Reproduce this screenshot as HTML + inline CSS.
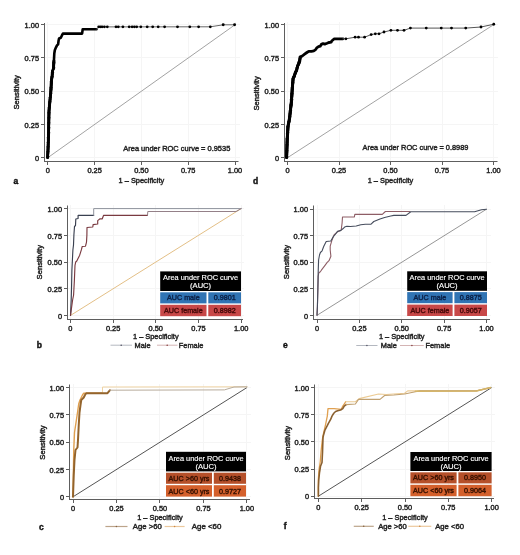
<!DOCTYPE html><html><head><meta charset="utf-8"><style>html,body{margin:0;padding:0;background:#fff;}svg{display:block;}text{font-family:"Liberation Sans",sans-serif;}svg{will-change:transform;filter:blur(0.3px);}</style></head><body>
<svg width="520" height="555" viewBox="0 0 520 555">
<rect width="520" height="555" fill="#fff"/>
<line x1="47.5" y1="22" x2="47.5" y2="161.5" stroke="#f5f5f5" stroke-width="1"/>
<line x1="44.5" y1="157.5" x2="240" y2="157.5" stroke="#f5f5f5" stroke-width="1"/>
<line x1="94.5" y1="22" x2="94.5" y2="161.5" stroke="#f5f5f5" stroke-width="1"/>
<line x1="44.5" y1="124.5" x2="240" y2="124.5" stroke="#f5f5f5" stroke-width="1"/>
<line x1="141.5" y1="22" x2="141.5" y2="161.5" stroke="#f5f5f5" stroke-width="1"/>
<line x1="44.5" y1="91.5" x2="240" y2="91.5" stroke="#f5f5f5" stroke-width="1"/>
<line x1="188.5" y1="22" x2="188.5" y2="161.5" stroke="#f5f5f5" stroke-width="1"/>
<line x1="44.5" y1="57.5" x2="240" y2="57.5" stroke="#f5f5f5" stroke-width="1"/>
<line x1="235.5" y1="22" x2="235.5" y2="161.5" stroke="#f5f5f5" stroke-width="1"/>
<line x1="44.5" y1="24.5" x2="240" y2="24.5" stroke="#f5f5f5" stroke-width="1"/>
<line x1="44.5" y1="23" x2="44.5" y2="162" stroke="#5e5e5e" stroke-width="1"/>
<line x1="44" y1="161.5" x2="238.5" y2="161.5" stroke="#5e5e5e" stroke-width="1"/>
<line x1="41" y1="157.5" x2="44.5" y2="157.5" stroke="#5e5e5e" stroke-width="1"/>
<line x1="47.5" y1="161.5" x2="47.5" y2="165" stroke="#5e5e5e" stroke-width="1"/>
<text x="39" y="160.9" font-size="7.4" text-anchor="end" fill="#222" stroke="#222" stroke-width="0.42" font-weight="normal">0</text>
<text x="47.8" y="173" font-size="7.4" text-anchor="middle" fill="#222" stroke="#222" stroke-width="0.42" font-weight="normal">0</text>
<line x1="41" y1="124.5" x2="44.5" y2="124.5" stroke="#5e5e5e" stroke-width="1"/>
<line x1="94.5" y1="161.5" x2="94.5" y2="165" stroke="#5e5e5e" stroke-width="1"/>
<text x="39" y="127.66" font-size="7.4" text-anchor="end" fill="#222" stroke="#222" stroke-width="0.42" font-weight="normal">0.25</text>
<text x="94.6" y="173" font-size="7.4" text-anchor="middle" fill="#222" stroke="#222" stroke-width="0.42" font-weight="normal">0.25</text>
<line x1="41" y1="91.5" x2="44.5" y2="91.5" stroke="#5e5e5e" stroke-width="1"/>
<line x1="141.5" y1="161.5" x2="141.5" y2="165" stroke="#5e5e5e" stroke-width="1"/>
<text x="39" y="94.42" font-size="7.4" text-anchor="end" fill="#222" stroke="#222" stroke-width="0.42" font-weight="normal">0.50</text>
<text x="141.4" y="173" font-size="7.4" text-anchor="middle" fill="#222" stroke="#222" stroke-width="0.42" font-weight="normal">0.50</text>
<line x1="41" y1="57.5" x2="44.5" y2="57.5" stroke="#5e5e5e" stroke-width="1"/>
<line x1="188.5" y1="161.5" x2="188.5" y2="165" stroke="#5e5e5e" stroke-width="1"/>
<text x="39" y="61.19" font-size="7.4" text-anchor="end" fill="#222" stroke="#222" stroke-width="0.42" font-weight="normal">0.75</text>
<text x="188.2" y="173" font-size="7.4" text-anchor="middle" fill="#222" stroke="#222" stroke-width="0.42" font-weight="normal">0.75</text>
<line x1="41" y1="24.5" x2="44.5" y2="24.5" stroke="#5e5e5e" stroke-width="1"/>
<line x1="235.5" y1="161.5" x2="235.5" y2="165" stroke="#5e5e5e" stroke-width="1"/>
<text x="39" y="27.95" font-size="7.4" text-anchor="end" fill="#222" stroke="#222" stroke-width="0.42" font-weight="normal">1.00</text>
<text x="235" y="173" font-size="7.4" text-anchor="middle" fill="#222" stroke="#222" stroke-width="0.42" font-weight="normal">1.00</text>
<text x="0" y="0" font-size="7.65" text-anchor="middle" fill="#222" stroke="#222" stroke-width="0.42" transform="translate(18.6,92.3) rotate(-90)">Sensitivity</text>
<text x="141.4" y="183.2" font-size="7.4" text-anchor="middle" fill="#222" stroke="#222" stroke-width="0.42" font-weight="normal">1 – Specificity</text>
<text x="15.8" y="183.6" font-size="8.5" text-anchor="middle" fill="#111" stroke="#111" stroke-width="0.42" font-weight="bold">a</text>
<line x1="47.8" y1="157.7" x2="235" y2="24.75" stroke="#999" stroke-width="0.9"/>
<polyline points="47.6,157.5 48,150 48.5,136 49,111 50,100 50.8,92 51.5,80 52.1,76.2 52.6,70.8 53.5,68.6 53.9,61.1 54.3,53.5 54.8,50.3 55.9,47.6 57,45.4 58.1,44.3 58.6,40.5 59.1,38.4 60.8,37.8 61.8,35.7 62.9,33.6 82.1,33.6 82.7,29.2 96.5,29.2" fill="none" stroke="#000" stroke-width="2.6" stroke-linejoin="round" stroke-linecap="round" opacity="1"/>
<polyline points="96.5,29.2 98.7,26.9 210.3,26.8 223.2,24.8 234.6,24.8" fill="none" stroke="#666" stroke-width="1.0" stroke-linejoin="round" stroke-linecap="round" opacity="1"/>
<circle cx="47.6" cy="157.5" r="1.55" fill="#000"/>
<circle cx="47.67" cy="156.25" r="1.55" fill="#000"/>
<circle cx="47.73" cy="155" r="1.55" fill="#000"/>
<circle cx="47.8" cy="153.75" r="1.55" fill="#000"/>
<circle cx="47.87" cy="152.5" r="1.55" fill="#000"/>
<circle cx="47.93" cy="151.25" r="1.55" fill="#000"/>
<circle cx="48" cy="150" r="1.55" fill="#000"/>
<circle cx="48.05" cy="148.73" r="1.55" fill="#000"/>
<circle cx="48.09" cy="147.45" r="1.55" fill="#000"/>
<circle cx="48.14" cy="146.18" r="1.55" fill="#000"/>
<circle cx="48.18" cy="144.91" r="1.55" fill="#000"/>
<circle cx="48.23" cy="143.64" r="1.55" fill="#000"/>
<circle cx="48.27" cy="142.36" r="1.55" fill="#000"/>
<circle cx="48.32" cy="141.09" r="1.55" fill="#000"/>
<circle cx="48.36" cy="139.82" r="1.55" fill="#000"/>
<circle cx="48.41" cy="138.55" r="1.55" fill="#000"/>
<circle cx="48.45" cy="137.27" r="1.55" fill="#000"/>
<circle cx="48.5" cy="136" r="1.55" fill="#000"/>
<circle cx="48.52" cy="134.75" r="1.55" fill="#000"/>
<circle cx="48.55" cy="133.5" r="1.55" fill="#000"/>
<circle cx="48.58" cy="132.25" r="1.55" fill="#000"/>
<circle cx="48.6" cy="131" r="1.55" fill="#000"/>
<circle cx="48.62" cy="129.75" r="1.55" fill="#000"/>
<circle cx="48.65" cy="128.5" r="1.55" fill="#000"/>
<circle cx="48.67" cy="127.25" r="1.55" fill="#000"/>
<circle cx="48.7" cy="126" r="1.55" fill="#000"/>
<circle cx="48.73" cy="124.75" r="1.55" fill="#000"/>
<circle cx="48.75" cy="123.5" r="1.55" fill="#000"/>
<circle cx="48.77" cy="122.25" r="1.55" fill="#000"/>
<circle cx="48.8" cy="121" r="1.55" fill="#000"/>
<circle cx="48.83" cy="119.75" r="1.55" fill="#000"/>
<circle cx="48.85" cy="118.5" r="1.55" fill="#000"/>
<circle cx="48.88" cy="117.25" r="1.55" fill="#000"/>
<circle cx="48.9" cy="116" r="1.55" fill="#000"/>
<circle cx="48.92" cy="114.75" r="1.55" fill="#000"/>
<circle cx="48.95" cy="113.5" r="1.55" fill="#000"/>
<circle cx="48.98" cy="112.25" r="1.55" fill="#000"/>
<circle cx="49" cy="111" r="1.55" fill="#000"/>
<circle cx="49.11" cy="109.78" r="1.55" fill="#000"/>
<circle cx="49.22" cy="108.56" r="1.55" fill="#000"/>
<circle cx="49.33" cy="107.33" r="1.55" fill="#000"/>
<circle cx="49.44" cy="106.11" r="1.55" fill="#000"/>
<circle cx="49.56" cy="104.89" r="1.55" fill="#000"/>
<circle cx="49.67" cy="103.67" r="1.55" fill="#000"/>
<circle cx="49.78" cy="102.44" r="1.55" fill="#000"/>
<circle cx="49.89" cy="101.22" r="1.55" fill="#000"/>
<circle cx="50" cy="100" r="1.55" fill="#000"/>
<circle cx="50.13" cy="98.67" r="1.55" fill="#000"/>
<circle cx="50.27" cy="97.33" r="1.55" fill="#000"/>
<circle cx="50.4" cy="96" r="1.55" fill="#000"/>
<circle cx="50.53" cy="94.67" r="1.55" fill="#000"/>
<circle cx="50.67" cy="93.33" r="1.55" fill="#000"/>
<circle cx="50.8" cy="92" r="1.55" fill="#000"/>
<circle cx="50.87" cy="90.8" r="1.55" fill="#000"/>
<circle cx="50.94" cy="89.6" r="1.55" fill="#000"/>
<circle cx="51.01" cy="88.4" r="1.55" fill="#000"/>
<circle cx="51.08" cy="87.2" r="1.55" fill="#000"/>
<circle cx="51.15" cy="86" r="1.55" fill="#000"/>
<circle cx="51.22" cy="84.8" r="1.55" fill="#000"/>
<circle cx="51.29" cy="83.6" r="1.55" fill="#000"/>
<circle cx="51.36" cy="82.4" r="1.55" fill="#000"/>
<circle cx="51.43" cy="81.2" r="1.55" fill="#000"/>
<circle cx="51.5" cy="80" r="1.55" fill="#000"/>
<circle cx="51.7" cy="78.73" r="1.55" fill="#000"/>
<circle cx="51.9" cy="77.47" r="1.55" fill="#000"/>
<circle cx="52.1" cy="76.2" r="1.55" fill="#000"/>
<circle cx="52.23" cy="74.85" r="1.55" fill="#000"/>
<circle cx="52.35" cy="73.5" r="1.55" fill="#000"/>
<circle cx="52.48" cy="72.15" r="1.55" fill="#000"/>
<circle cx="52.6" cy="70.8" r="1.55" fill="#000"/>
<circle cx="53.5" cy="68.6" r="1.55" fill="#000"/>
<circle cx="53.57" cy="67.35" r="1.55" fill="#000"/>
<circle cx="53.63" cy="66.1" r="1.55" fill="#000"/>
<circle cx="53.7" cy="64.85" r="1.55" fill="#000"/>
<circle cx="53.77" cy="63.6" r="1.55" fill="#000"/>
<circle cx="53.83" cy="62.35" r="1.55" fill="#000"/>
<circle cx="53.9" cy="61.1" r="1.55" fill="#000"/>
<circle cx="98.7" cy="26.85" r="1.4" fill="#000"/>
<circle cx="100.4" cy="26.85" r="1.4" fill="#000"/>
<circle cx="102.1" cy="26.85" r="1.4" fill="#000"/>
<circle cx="104.4" cy="26.85" r="1.4" fill="#000"/>
<circle cx="107.3" cy="26.85" r="1.4" fill="#000"/>
<circle cx="116" cy="26.85" r="1.4" fill="#000"/>
<circle cx="118.3" cy="26.85" r="1.4" fill="#000"/>
<circle cx="122.9" cy="26.85" r="1.4" fill="#000"/>
<circle cx="129.2" cy="26.85" r="1.4" fill="#000"/>
<circle cx="132.1" cy="26.85" r="1.4" fill="#000"/>
<circle cx="134.4" cy="26.85" r="1.4" fill="#000"/>
<circle cx="136.7" cy="26.85" r="1.4" fill="#000"/>
<circle cx="140.8" cy="26.85" r="1.4" fill="#000"/>
<circle cx="147.2" cy="26.85" r="1.4" fill="#000"/>
<circle cx="152.7" cy="26.85" r="1.4" fill="#000"/>
<circle cx="158.2" cy="26.85" r="1.4" fill="#000"/>
<circle cx="164.6" cy="26.85" r="1.4" fill="#000"/>
<circle cx="177.5" cy="26.85" r="1.4" fill="#000"/>
<circle cx="189.8" cy="26.85" r="1.4" fill="#000"/>
<circle cx="198.6" cy="26.85" r="1.4" fill="#000"/>
<circle cx="210.3" cy="26.85" r="1.4" fill="#000"/>
<circle cx="223.2" cy="24.8" r="1.45" fill="#000"/><circle cx="234.6" cy="24.8" r="1.45" fill="#000"/>
<text x="123.3" y="150.5" font-size="7.6" text-anchor="start" fill="#222" stroke="#222" stroke-width="0.42" font-weight="normal" textLength="107" lengthAdjust="spacingAndGlyphs">Area under ROC curve = 0.9535</text>
<line x1="287.5" y1="22" x2="287.5" y2="161.5" stroke="#f5f5f5" stroke-width="1"/>
<line x1="284.5" y1="157.5" x2="498" y2="157.5" stroke="#f5f5f5" stroke-width="1"/>
<line x1="339.5" y1="22" x2="339.5" y2="161.5" stroke="#f5f5f5" stroke-width="1"/>
<line x1="284.5" y1="124.5" x2="498" y2="124.5" stroke="#f5f5f5" stroke-width="1"/>
<line x1="390.5" y1="22" x2="390.5" y2="161.5" stroke="#f5f5f5" stroke-width="1"/>
<line x1="284.5" y1="91.5" x2="498" y2="91.5" stroke="#f5f5f5" stroke-width="1"/>
<line x1="442.5" y1="22" x2="442.5" y2="161.5" stroke="#f5f5f5" stroke-width="1"/>
<line x1="284.5" y1="57.5" x2="498" y2="57.5" stroke="#f5f5f5" stroke-width="1"/>
<line x1="493.5" y1="22" x2="493.5" y2="161.5" stroke="#f5f5f5" stroke-width="1"/>
<line x1="284.5" y1="24.5" x2="498" y2="24.5" stroke="#f5f5f5" stroke-width="1"/>
<line x1="284.5" y1="23" x2="284.5" y2="162" stroke="#5e5e5e" stroke-width="1"/>
<line x1="284" y1="161.5" x2="497.5" y2="161.5" stroke="#5e5e5e" stroke-width="1"/>
<line x1="281" y1="157.5" x2="284.5" y2="157.5" stroke="#5e5e5e" stroke-width="1"/>
<line x1="287.5" y1="161.5" x2="287.5" y2="165" stroke="#5e5e5e" stroke-width="1"/>
<text x="279" y="160.9" font-size="7.4" text-anchor="end" fill="#222" stroke="#222" stroke-width="0.42" font-weight="normal">0</text>
<text x="287.5" y="173" font-size="7.4" text-anchor="middle" fill="#222" stroke="#222" stroke-width="0.42" font-weight="normal">0</text>
<line x1="281" y1="124.5" x2="284.5" y2="124.5" stroke="#5e5e5e" stroke-width="1"/>
<line x1="339.5" y1="161.5" x2="339.5" y2="165" stroke="#5e5e5e" stroke-width="1"/>
<text x="279" y="127.66" font-size="7.4" text-anchor="end" fill="#222" stroke="#222" stroke-width="0.42" font-weight="normal">0.25</text>
<text x="339" y="173" font-size="7.4" text-anchor="middle" fill="#222" stroke="#222" stroke-width="0.42" font-weight="normal">0.25</text>
<line x1="281" y1="91.5" x2="284.5" y2="91.5" stroke="#5e5e5e" stroke-width="1"/>
<line x1="390.5" y1="161.5" x2="390.5" y2="165" stroke="#5e5e5e" stroke-width="1"/>
<text x="279" y="94.42" font-size="7.4" text-anchor="end" fill="#222" stroke="#222" stroke-width="0.42" font-weight="normal">0.50</text>
<text x="390.5" y="173" font-size="7.4" text-anchor="middle" fill="#222" stroke="#222" stroke-width="0.42" font-weight="normal">0.50</text>
<line x1="281" y1="57.5" x2="284.5" y2="57.5" stroke="#5e5e5e" stroke-width="1"/>
<line x1="442.5" y1="161.5" x2="442.5" y2="165" stroke="#5e5e5e" stroke-width="1"/>
<text x="279" y="61.19" font-size="7.4" text-anchor="end" fill="#222" stroke="#222" stroke-width="0.42" font-weight="normal">0.75</text>
<text x="442" y="173" font-size="7.4" text-anchor="middle" fill="#222" stroke="#222" stroke-width="0.42" font-weight="normal">0.75</text>
<line x1="281" y1="24.5" x2="284.5" y2="24.5" stroke="#5e5e5e" stroke-width="1"/>
<line x1="493.5" y1="161.5" x2="493.5" y2="165" stroke="#5e5e5e" stroke-width="1"/>
<text x="279" y="27.95" font-size="7.4" text-anchor="end" fill="#222" stroke="#222" stroke-width="0.42" font-weight="normal">1.00</text>
<text x="493.5" y="173" font-size="7.4" text-anchor="middle" fill="#222" stroke="#222" stroke-width="0.42" font-weight="normal">1.00</text>
<text x="0" y="0" font-size="7.65" text-anchor="middle" fill="#222" stroke="#222" stroke-width="0.42" transform="translate(258.6,93.4) rotate(-90)">Sensitivity</text>
<text x="390.5" y="183.2" font-size="7.4" text-anchor="middle" fill="#222" stroke="#222" stroke-width="0.42" font-weight="normal">1 – Specificity</text>
<text x="255.6" y="183.6" font-size="8.5" text-anchor="middle" fill="#111" stroke="#111" stroke-width="0.42" font-weight="bold">d</text>
<line x1="287.5" y1="157.7" x2="493.5" y2="24.75" stroke="#999" stroke-width="0.9"/>
<polyline points="286.6,157.5 287.2,139.5 288,126.3 289.5,118.7 291.4,101.7 292.3,88.4 293.1,78.5 294.2,76.2 295.4,72.7 296.5,70.4 297.7,65.8 298.8,63.5 299.8,60 300.2,57.1 302.3,56 304.6,54.2 306.9,52.5 308.7,51.3 311.5,51.3 313.8,50.8 315.6,49.6 316.7,47.9 318.5,46.7 320.2,46.2 321.3,44.4 323.1,43.6 324.8,44.1 327.1,43.3 328.8,42.5 331.2,42.1 331.7,41 334.3,38.8 343,38.8" fill="none" stroke="#000" stroke-width="2.8" stroke-linejoin="round" stroke-linecap="round" opacity="1"/>
<polyline points="343,38.8 345.9,38.8 355.1,37.2 358.5,37.2 364.6,37.2 371.2,34.6 375.3,33.8 379,33.8 384,32 390.9,30.3 397.5,30.3 404,30.3 410.4,28.1 426.25,28.1 441.25,28.1 451.5,28.1 465.75,28.1 481,27 493.75,24.25" fill="none" stroke="#555" stroke-width="1.0" stroke-linejoin="round" stroke-linecap="round" opacity="1"/>
<circle cx="286.6" cy="157.5" r="1.6" fill="#000"/>
<circle cx="286.64" cy="156.3" r="1.6" fill="#000"/>
<circle cx="286.68" cy="155.1" r="1.6" fill="#000"/>
<circle cx="286.72" cy="153.9" r="1.6" fill="#000"/>
<circle cx="286.76" cy="152.7" r="1.6" fill="#000"/>
<circle cx="286.8" cy="151.5" r="1.6" fill="#000"/>
<circle cx="286.84" cy="150.3" r="1.6" fill="#000"/>
<circle cx="286.88" cy="149.1" r="1.6" fill="#000"/>
<circle cx="286.92" cy="147.9" r="1.6" fill="#000"/>
<circle cx="286.96" cy="146.7" r="1.6" fill="#000"/>
<circle cx="287" cy="145.5" r="1.6" fill="#000"/>
<circle cx="287.04" cy="144.3" r="1.6" fill="#000"/>
<circle cx="287.08" cy="143.1" r="1.6" fill="#000"/>
<circle cx="287.12" cy="141.9" r="1.6" fill="#000"/>
<circle cx="287.16" cy="140.7" r="1.6" fill="#000"/>
<circle cx="287.2" cy="139.5" r="1.6" fill="#000"/>
<circle cx="287.27" cy="138.3" r="1.6" fill="#000"/>
<circle cx="287.35" cy="137.1" r="1.6" fill="#000"/>
<circle cx="287.42" cy="135.9" r="1.6" fill="#000"/>
<circle cx="287.49" cy="134.7" r="1.6" fill="#000"/>
<circle cx="287.56" cy="133.5" r="1.6" fill="#000"/>
<circle cx="287.64" cy="132.3" r="1.6" fill="#000"/>
<circle cx="287.71" cy="131.1" r="1.6" fill="#000"/>
<circle cx="287.78" cy="129.9" r="1.6" fill="#000"/>
<circle cx="287.85" cy="128.7" r="1.6" fill="#000"/>
<circle cx="287.93" cy="127.5" r="1.6" fill="#000"/>
<circle cx="288" cy="126.3" r="1.6" fill="#000"/>
<circle cx="288.25" cy="125.03" r="1.6" fill="#000"/>
<circle cx="288.5" cy="123.77" r="1.6" fill="#000"/>
<circle cx="288.75" cy="122.5" r="1.6" fill="#000"/>
<circle cx="289" cy="121.23" r="1.6" fill="#000"/>
<circle cx="289.25" cy="119.97" r="1.6" fill="#000"/>
<circle cx="289.5" cy="118.7" r="1.6" fill="#000"/>
<circle cx="289.64" cy="117.49" r="1.6" fill="#000"/>
<circle cx="289.77" cy="116.27" r="1.6" fill="#000"/>
<circle cx="289.91" cy="115.06" r="1.6" fill="#000"/>
<circle cx="290.04" cy="113.84" r="1.6" fill="#000"/>
<circle cx="290.18" cy="112.63" r="1.6" fill="#000"/>
<circle cx="290.31" cy="111.41" r="1.6" fill="#000"/>
<circle cx="290.45" cy="110.2" r="1.6" fill="#000"/>
<circle cx="290.59" cy="108.99" r="1.6" fill="#000"/>
<circle cx="290.72" cy="107.77" r="1.6" fill="#000"/>
<circle cx="290.86" cy="106.56" r="1.6" fill="#000"/>
<circle cx="290.99" cy="105.34" r="1.6" fill="#000"/>
<circle cx="291.13" cy="104.13" r="1.6" fill="#000"/>
<circle cx="291.26" cy="102.91" r="1.6" fill="#000"/>
<circle cx="291.4" cy="101.7" r="1.6" fill="#000"/>
<circle cx="291.48" cy="100.49" r="1.6" fill="#000"/>
<circle cx="291.56" cy="99.28" r="1.6" fill="#000"/>
<circle cx="291.65" cy="98.07" r="1.6" fill="#000"/>
<circle cx="291.73" cy="96.86" r="1.6" fill="#000"/>
<circle cx="291.81" cy="95.65" r="1.6" fill="#000"/>
<circle cx="291.89" cy="94.45" r="1.6" fill="#000"/>
<circle cx="291.97" cy="93.24" r="1.6" fill="#000"/>
<circle cx="292.05" cy="92.03" r="1.6" fill="#000"/>
<circle cx="292.14" cy="90.82" r="1.6" fill="#000"/>
<circle cx="292.22" cy="89.61" r="1.6" fill="#000"/>
<circle cx="292.3" cy="88.4" r="1.6" fill="#000"/>
<circle cx="292.4" cy="87.16" r="1.6" fill="#000"/>
<circle cx="292.5" cy="85.93" r="1.6" fill="#000"/>
<circle cx="292.6" cy="84.69" r="1.6" fill="#000"/>
<circle cx="292.7" cy="83.45" r="1.6" fill="#000"/>
<circle cx="292.8" cy="82.21" r="1.6" fill="#000"/>
<circle cx="292.9" cy="80.97" r="1.6" fill="#000"/>
<circle cx="293" cy="79.74" r="1.6" fill="#000"/>
<circle cx="293.1" cy="78.5" r="1.6" fill="#000"/>
<circle cx="293.65" cy="77.35" r="1.6" fill="#000"/>
<circle cx="294.2" cy="76.2" r="1.6" fill="#000"/>
<circle cx="294.6" cy="75.03" r="1.6" fill="#000"/>
<circle cx="295" cy="73.87" r="1.6" fill="#000"/>
<circle cx="295.4" cy="72.7" r="1.6" fill="#000"/>
<circle cx="295.95" cy="71.55" r="1.6" fill="#000"/>
<circle cx="296.5" cy="70.4" r="1.6" fill="#000"/>
<circle cx="296.9" cy="68.87" r="1.6" fill="#000"/>
<circle cx="297.3" cy="67.33" r="1.6" fill="#000"/>
<circle cx="297.7" cy="65.8" r="1.6" fill="#000"/>
<circle cx="298.25" cy="64.65" r="1.6" fill="#000"/>
<circle cx="298.8" cy="63.5" r="1.6" fill="#000"/>
<circle cx="299.13" cy="62.33" r="1.6" fill="#000"/>
<circle cx="299.47" cy="61.17" r="1.6" fill="#000"/>
<circle cx="299.8" cy="60" r="1.6" fill="#000"/>
<circle cx="300" cy="58.55" r="1.6" fill="#000"/>
<circle cx="300.2" cy="57.1" r="1.6" fill="#000"/>
<circle cx="345.9" cy="38.8" r="1.4" fill="#000"/>
<circle cx="355.1" cy="37.2" r="1.4" fill="#000"/>
<circle cx="358.5" cy="37.2" r="1.4" fill="#000"/>
<circle cx="364.6" cy="37.2" r="1.4" fill="#000"/>
<circle cx="371.2" cy="34.6" r="1.4" fill="#000"/>
<circle cx="375.3" cy="33.8" r="1.4" fill="#000"/>
<circle cx="379" cy="33.8" r="1.4" fill="#000"/>
<circle cx="384" cy="32" r="1.4" fill="#000"/>
<circle cx="390.9" cy="30.3" r="1.4" fill="#000"/>
<circle cx="397.5" cy="30.3" r="1.4" fill="#000"/>
<circle cx="404" cy="30.3" r="1.4" fill="#000"/>
<circle cx="410.4" cy="28.1" r="1.4" fill="#000"/>
<circle cx="426.25" cy="28.1" r="1.4" fill="#000"/>
<circle cx="441.25" cy="28.1" r="1.4" fill="#000"/>
<circle cx="451.5" cy="28.1" r="1.4" fill="#000"/>
<circle cx="465.75" cy="28.1" r="1.4" fill="#000"/>
<circle cx="481" cy="27" r="1.4" fill="#000"/>
<circle cx="493.75" cy="24.25" r="1.4" fill="#000"/>
<text x="362.6" y="150.3" font-size="7.6" text-anchor="start" fill="#222" stroke="#222" stroke-width="0.42" font-weight="normal" textLength="105.8" lengthAdjust="spacingAndGlyphs">Area under ROC curve = 0.8989</text>
<line x1="70.5" y1="205" x2="70.5" y2="319.5" stroke="#f5f5f5" stroke-width="1"/>
<line x1="67.5" y1="315.5" x2="244" y2="315.5" stroke="#f5f5f5" stroke-width="1"/>
<line x1="113.5" y1="205" x2="113.5" y2="319.5" stroke="#f5f5f5" stroke-width="1"/>
<line x1="67.5" y1="288.5" x2="244" y2="288.5" stroke="#f5f5f5" stroke-width="1"/>
<line x1="155.5" y1="205" x2="155.5" y2="319.5" stroke="#f5f5f5" stroke-width="1"/>
<line x1="67.5" y1="262.5" x2="244" y2="262.5" stroke="#f5f5f5" stroke-width="1"/>
<line x1="198.5" y1="205" x2="198.5" y2="319.5" stroke="#f5f5f5" stroke-width="1"/>
<line x1="67.5" y1="235.5" x2="244" y2="235.5" stroke="#f5f5f5" stroke-width="1"/>
<line x1="241.5" y1="205" x2="241.5" y2="319.5" stroke="#f5f5f5" stroke-width="1"/>
<line x1="67.5" y1="208.5" x2="244" y2="208.5" stroke="#f5f5f5" stroke-width="1"/>
<line x1="67.5" y1="205.5" x2="67.5" y2="320" stroke="#5e5e5e" stroke-width="1"/>
<line x1="67" y1="319.5" x2="243" y2="319.5" stroke="#5e5e5e" stroke-width="1"/>
<line x1="64" y1="315.5" x2="67.5" y2="315.5" stroke="#5e5e5e" stroke-width="1"/>
<line x1="70.5" y1="319.5" x2="70.5" y2="323" stroke="#5e5e5e" stroke-width="1"/>
<text x="62" y="318.7" font-size="7.4" text-anchor="end" fill="#222" stroke="#222" stroke-width="0.42" font-weight="normal">0</text>
<text x="70.4" y="331" font-size="7.4" text-anchor="middle" fill="#222" stroke="#222" stroke-width="0.42" font-weight="normal">0</text>
<line x1="64" y1="288.5" x2="67.5" y2="288.5" stroke="#5e5e5e" stroke-width="1"/>
<line x1="113.5" y1="319.5" x2="113.5" y2="323" stroke="#5e5e5e" stroke-width="1"/>
<text x="62" y="291.97" font-size="7.4" text-anchor="end" fill="#222" stroke="#222" stroke-width="0.42" font-weight="normal">0.25</text>
<text x="113.1" y="331" font-size="7.4" text-anchor="middle" fill="#222" stroke="#222" stroke-width="0.42" font-weight="normal">0.25</text>
<line x1="64" y1="262.5" x2="67.5" y2="262.5" stroke="#5e5e5e" stroke-width="1"/>
<line x1="155.5" y1="319.5" x2="155.5" y2="323" stroke="#5e5e5e" stroke-width="1"/>
<text x="62" y="265.25" font-size="7.4" text-anchor="end" fill="#222" stroke="#222" stroke-width="0.42" font-weight="normal">0.50</text>
<text x="155.8" y="331" font-size="7.4" text-anchor="middle" fill="#222" stroke="#222" stroke-width="0.42" font-weight="normal">0.50</text>
<line x1="64" y1="235.5" x2="67.5" y2="235.5" stroke="#5e5e5e" stroke-width="1"/>
<line x1="198.5" y1="319.5" x2="198.5" y2="323" stroke="#5e5e5e" stroke-width="1"/>
<text x="62" y="238.52" font-size="7.4" text-anchor="end" fill="#222" stroke="#222" stroke-width="0.42" font-weight="normal">0.75</text>
<text x="198.5" y="331" font-size="7.4" text-anchor="middle" fill="#222" stroke="#222" stroke-width="0.42" font-weight="normal">0.75</text>
<line x1="64" y1="208.5" x2="67.5" y2="208.5" stroke="#5e5e5e" stroke-width="1"/>
<line x1="241.5" y1="319.5" x2="241.5" y2="323" stroke="#5e5e5e" stroke-width="1"/>
<text x="62" y="211.8" font-size="7.4" text-anchor="end" fill="#222" stroke="#222" stroke-width="0.42" font-weight="normal">1.00</text>
<text x="241.2" y="331" font-size="7.4" text-anchor="middle" fill="#222" stroke="#222" stroke-width="0.42" font-weight="normal">1.00</text>
<text x="0" y="0" font-size="7.65" text-anchor="middle" fill="#222" stroke="#222" stroke-width="0.42" transform="translate(42.2,262.2) rotate(-90)">Sensitivity</text>
<text x="155.8" y="339.3" font-size="7.4" text-anchor="middle" fill="#222" stroke="#222" stroke-width="0.42" font-weight="normal">1 – Specificity</text>
<text x="39.3" y="348" font-size="8.5" text-anchor="middle" fill="#111" stroke="#111" stroke-width="0.42" font-weight="bold">b</text>
<line x1="70.4" y1="315.5" x2="241.2" y2="208.6" stroke="#e0b878" stroke-width="0.9"/>
<polyline points="70.5,315.5 71.2,300 71.6,285 71.9,270 72.4,260 72.9,250 73.5,245 73.9,235 74.5,226.5 75.5,225.5 75.8,219 78.1,218.5 78.1,215.3 93.7,215.3" fill="none" stroke="#3a4050" stroke-width="1.15" stroke-linejoin="round" stroke-linecap="round" opacity="1"/>
<polyline points="93.7,215.3 93.7,208.6 241.2,208.6" fill="none" stroke="#8e929c" stroke-width="1.0" stroke-linejoin="round" stroke-linecap="round" opacity="1"/>
<polyline points="70.5,315.5 72.6,300 73.6,295 74.4,280 75,265.3 75.7,262 76.8,261 77.9,258.8 79.7,255.2 81.5,249.4 82.2,246.5 85.5,246.2 86.5,242.2 86.9,235 87,227.5 92.8,227 93.1,224.6 97.7,224 97.7,220.6 100,218.8 102.3,218.8 103.6,215.3 147.5,215.3" fill="none" stroke="#7a3a40" stroke-width="1.15" stroke-linejoin="round" stroke-linecap="round" opacity="1"/>
<polyline points="147.5,215.3 147.8,211.5 236,211.5 241.2,208.6" fill="none" stroke="#948088" stroke-width="1.0" stroke-linejoin="round" stroke-linecap="round" opacity="1"/>
<rect x="160.2" y="271.4" width="80.8" height="19.6" fill="#000"/>
<text x="200.6" y="280.2" font-size="7.6" text-anchor="middle" fill="#fff" stroke="#fff" stroke-width="0.15" font-weight="normal" textLength="75" lengthAdjust="spacingAndGlyphs">Area under ROC curve</text>
<text x="200.6" y="288.4" font-size="7.6" text-anchor="middle" fill="#fff" stroke="#fff" stroke-width="0.15" font-weight="normal">(AUC)</text>
<rect x="160.2" y="292.3" width="46.3" height="11.1" fill="#3074b4"/>
<rect x="208.3" y="292.3" width="32.7" height="11.1" fill="#3074b4"/>
<text x="183.35" y="300.3" font-size="7.2" text-anchor="middle" fill="#0c2248" stroke="#0c2248" stroke-width="0.42" font-weight="normal">AUC male</text>
<text x="224.65" y="300.3" font-size="7.2" text-anchor="middle" fill="#0c2248" stroke="#0c2248" stroke-width="0.42" font-weight="normal">0.9801</text>
<rect x="160.2" y="304.8" width="46.3" height="11.4" fill="#c84848"/>
<rect x="208.3" y="304.8" width="32.7" height="11.4" fill="#c84848"/>
<text x="183.35" y="313.1" font-size="7.2" text-anchor="middle" fill="#4a0a0a" stroke="#4a0a0a" stroke-width="0.42" font-weight="normal">AUC female</text>
<text x="224.65" y="313.1" font-size="7.2" text-anchor="middle" fill="#4a0a0a" stroke="#4a0a0a" stroke-width="0.42" font-weight="normal">0.8982</text>
<line x1="110.5" y1="345.2" x2="132" y2="345.2" stroke="#b4b8c0" stroke-width="1"/><circle cx="121.2" cy="345.2" r="0.8" fill="#556"/>
<text x="134.5" y="347.9" font-size="7.4" text-anchor="start" fill="#222" stroke="#222" stroke-width="0.42" font-weight="normal">Male</text>
<line x1="157" y1="345.2" x2="177.5" y2="345.2" stroke="#d4b4b4" stroke-width="1"/><circle cx="167.2" cy="345.2" r="0.8" fill="#844"/>
<text x="178.8" y="347.9" font-size="7.4" text-anchor="start" fill="#222" stroke="#222" stroke-width="0.42" font-weight="normal">Female</text>
<line x1="317.5" y1="205" x2="317.5" y2="319.5" stroke="#f5f5f5" stroke-width="1"/>
<line x1="313.5" y1="315.5" x2="491" y2="315.5" stroke="#f5f5f5" stroke-width="1"/>
<line x1="359.5" y1="205" x2="359.5" y2="319.5" stroke="#f5f5f5" stroke-width="1"/>
<line x1="313.5" y1="288.5" x2="491" y2="288.5" stroke="#f5f5f5" stroke-width="1"/>
<line x1="401.5" y1="205" x2="401.5" y2="319.5" stroke="#f5f5f5" stroke-width="1"/>
<line x1="313.5" y1="262.5" x2="491" y2="262.5" stroke="#f5f5f5" stroke-width="1"/>
<line x1="444.5" y1="205" x2="444.5" y2="319.5" stroke="#f5f5f5" stroke-width="1"/>
<line x1="313.5" y1="235.5" x2="491" y2="235.5" stroke="#f5f5f5" stroke-width="1"/>
<line x1="486.5" y1="205" x2="486.5" y2="319.5" stroke="#f5f5f5" stroke-width="1"/>
<line x1="313.5" y1="209.5" x2="491" y2="209.5" stroke="#f5f5f5" stroke-width="1"/>
<line x1="313.5" y1="205.5" x2="313.5" y2="320" stroke="#5e5e5e" stroke-width="1"/>
<line x1="313" y1="319.5" x2="490" y2="319.5" stroke="#5e5e5e" stroke-width="1"/>
<line x1="310" y1="315.5" x2="313.5" y2="315.5" stroke="#5e5e5e" stroke-width="1"/>
<line x1="317.5" y1="319.5" x2="317.5" y2="323" stroke="#5e5e5e" stroke-width="1"/>
<text x="308" y="318.5" font-size="7.4" text-anchor="end" fill="#222" stroke="#222" stroke-width="0.42" font-weight="normal">0</text>
<text x="317" y="331" font-size="7.4" text-anchor="middle" fill="#222" stroke="#222" stroke-width="0.42" font-weight="normal">0</text>
<line x1="310" y1="288.5" x2="313.5" y2="288.5" stroke="#5e5e5e" stroke-width="1"/>
<line x1="359.5" y1="319.5" x2="359.5" y2="323" stroke="#5e5e5e" stroke-width="1"/>
<text x="308" y="291.97" font-size="7.4" text-anchor="end" fill="#222" stroke="#222" stroke-width="0.42" font-weight="normal">0.25</text>
<text x="359.38" y="331" font-size="7.4" text-anchor="middle" fill="#222" stroke="#222" stroke-width="0.42" font-weight="normal">0.25</text>
<line x1="310" y1="262.5" x2="313.5" y2="262.5" stroke="#5e5e5e" stroke-width="1"/>
<line x1="401.5" y1="319.5" x2="401.5" y2="323" stroke="#5e5e5e" stroke-width="1"/>
<text x="308" y="265.45" font-size="7.4" text-anchor="end" fill="#222" stroke="#222" stroke-width="0.42" font-weight="normal">0.50</text>
<text x="401.75" y="331" font-size="7.4" text-anchor="middle" fill="#222" stroke="#222" stroke-width="0.42" font-weight="normal">0.50</text>
<line x1="310" y1="235.5" x2="313.5" y2="235.5" stroke="#5e5e5e" stroke-width="1"/>
<line x1="444.5" y1="319.5" x2="444.5" y2="323" stroke="#5e5e5e" stroke-width="1"/>
<text x="308" y="238.92" font-size="7.4" text-anchor="end" fill="#222" stroke="#222" stroke-width="0.42" font-weight="normal">0.75</text>
<text x="444.12" y="331" font-size="7.4" text-anchor="middle" fill="#222" stroke="#222" stroke-width="0.42" font-weight="normal">0.75</text>
<line x1="310" y1="209.5" x2="313.5" y2="209.5" stroke="#5e5e5e" stroke-width="1"/>
<line x1="486.5" y1="319.5" x2="486.5" y2="323" stroke="#5e5e5e" stroke-width="1"/>
<text x="308" y="212.4" font-size="7.4" text-anchor="end" fill="#222" stroke="#222" stroke-width="0.42" font-weight="normal">1.00</text>
<text x="486.5" y="331" font-size="7.4" text-anchor="middle" fill="#222" stroke="#222" stroke-width="0.42" font-weight="normal">1.00</text>
<text x="0" y="0" font-size="7.65" text-anchor="middle" fill="#222" stroke="#222" stroke-width="0.42" transform="translate(288.5,262) rotate(-90)">Sensitivity</text>
<text x="401.75" y="339.3" font-size="7.4" text-anchor="middle" fill="#222" stroke="#222" stroke-width="0.42" font-weight="normal">1 – Specificity</text>
<text x="285.4" y="348.1" font-size="8.5" text-anchor="middle" fill="#111" stroke="#111" stroke-width="0.42" font-weight="bold">e</text>
<line x1="317" y1="315.3" x2="486.5" y2="209.2" stroke="#8a8a8a" stroke-width="0.9"/>
<polyline points="317,315.3 317.4,306.7 317.9,287.8 318.2,276 318.9,272.7 320.1,272 321.4,270.2 323.3,267.7 325.2,265.1 327,262.6 329,260.7 330.9,256.3 330.2,250 330.2,246.2 331.9,240.4 334.2,234.6 337.7,231.7 341.2,230 342.1,223 342.5,217 354.4,217 354.8,214.4 382.3,214.4 385.4,211.5 410,211.5" fill="none" stroke="#8e5e66" stroke-width="1.1" stroke-linejoin="round" stroke-linecap="round" opacity="1"/>
<polyline points="317,315.3 317.4,306.7 317.9,287.8 318.2,272.7 318.6,260 319.5,255 320.4,252.5 322.1,250.8 323.8,246.2 326.2,241.5 330.8,241 333.1,236.9 336,233.5 337.7,231.2 340.6,230.6 342.9,228.8 344.6,227.1 346.9,226.3 350.4,226.5 356.2,226 360.8,224.8 365.4,224.2 370.8,224.3 373.8,221.5 380,219 384.6,217.5 390.8,216 393.8,215.4 406,215.4 410.8,211.8 474.6,211.8 481.5,209.8 486.5,209.2" fill="none" stroke="#454c5c" stroke-width="1.1" stroke-linejoin="round" stroke-linecap="round" opacity="1"/>
<rect x="407.2" y="271.3" width="79.8" height="19.5" fill="#000"/>
<text x="447.1" y="280.1" font-size="7.6" text-anchor="middle" fill="#fff" stroke="#fff" stroke-width="0.15" font-weight="normal" textLength="75" lengthAdjust="spacingAndGlyphs">Area under ROC curve</text>
<text x="447.1" y="288.3" font-size="7.6" text-anchor="middle" fill="#fff" stroke="#fff" stroke-width="0.15" font-weight="normal">(AUC)</text>
<rect x="407.2" y="292.1" width="45.4" height="11.1" fill="#3074b4"/>
<rect x="454.4" y="292.1" width="32.6" height="11.1" fill="#3074b4"/>
<text x="429.9" y="300.1" font-size="7.2" text-anchor="middle" fill="#0c2248" stroke="#0c2248" stroke-width="0.42" font-weight="normal">AUC male</text>
<text x="470.7" y="300.1" font-size="7.2" text-anchor="middle" fill="#0c2248" stroke="#0c2248" stroke-width="0.42" font-weight="normal">0.8875</text>
<rect x="407.2" y="304.6" width="45.4" height="11.4" fill="#c84848"/>
<rect x="454.4" y="304.6" width="32.6" height="11.4" fill="#c84848"/>
<text x="429.9" y="312.9" font-size="7.2" text-anchor="middle" fill="#4a0a0a" stroke="#4a0a0a" stroke-width="0.42" font-weight="normal">AUC female</text>
<text x="470.7" y="312.9" font-size="7.2" text-anchor="middle" fill="#4a0a0a" stroke="#4a0a0a" stroke-width="0.42" font-weight="normal">0.9057</text>
<line x1="356.25" y1="345.5" x2="377.5" y2="345.5" stroke="#b4b8c0" stroke-width="1"/><circle cx="366.9" cy="345.5" r="0.8" fill="#556"/>
<text x="380.8" y="348.2" font-size="7.4" text-anchor="start" fill="#222" stroke="#222" stroke-width="0.42" font-weight="normal">Male</text>
<line x1="400" y1="345.5" x2="423.75" y2="345.5" stroke="#d4b4b4" stroke-width="1"/><circle cx="411.9" cy="345.5" r="0.8" fill="#844"/>
<text x="425.5" y="348.2" font-size="7.4" text-anchor="start" fill="#222" stroke="#222" stroke-width="0.42" font-weight="normal">Female</text>
<line x1="73.5" y1="384" x2="73.5" y2="499.5" stroke="#f5f5f5" stroke-width="1"/>
<line x1="69.5" y1="496.5" x2="251" y2="496.5" stroke="#f5f5f5" stroke-width="1"/>
<line x1="116.5" y1="384" x2="116.5" y2="499.5" stroke="#f5f5f5" stroke-width="1"/>
<line x1="69.5" y1="469.5" x2="251" y2="469.5" stroke="#f5f5f5" stroke-width="1"/>
<line x1="159.5" y1="384" x2="159.5" y2="499.5" stroke="#f5f5f5" stroke-width="1"/>
<line x1="69.5" y1="442.5" x2="251" y2="442.5" stroke="#f5f5f5" stroke-width="1"/>
<line x1="203.5" y1="384" x2="203.5" y2="499.5" stroke="#f5f5f5" stroke-width="1"/>
<line x1="69.5" y1="414.5" x2="251" y2="414.5" stroke="#f5f5f5" stroke-width="1"/>
<line x1="246.5" y1="384" x2="246.5" y2="499.5" stroke="#f5f5f5" stroke-width="1"/>
<line x1="69.5" y1="387.5" x2="251" y2="387.5" stroke="#f5f5f5" stroke-width="1"/>
<line x1="69.5" y1="384.5" x2="69.5" y2="500" stroke="#5e5e5e" stroke-width="1"/>
<line x1="69" y1="499.5" x2="250" y2="499.5" stroke="#5e5e5e" stroke-width="1"/>
<line x1="66" y1="496.5" x2="69.5" y2="496.5" stroke="#5e5e5e" stroke-width="1"/>
<line x1="73.5" y1="499.5" x2="73.5" y2="503" stroke="#5e5e5e" stroke-width="1"/>
<text x="64" y="500" font-size="7.4" text-anchor="end" fill="#222" stroke="#222" stroke-width="0.42" font-weight="normal">0</text>
<text x="73" y="511" font-size="7.4" text-anchor="middle" fill="#222" stroke="#222" stroke-width="0.42" font-weight="normal">0</text>
<line x1="66" y1="469.5" x2="69.5" y2="469.5" stroke="#5e5e5e" stroke-width="1"/>
<line x1="116.5" y1="499.5" x2="116.5" y2="503" stroke="#5e5e5e" stroke-width="1"/>
<text x="64" y="472.7" font-size="7.4" text-anchor="end" fill="#222" stroke="#222" stroke-width="0.42" font-weight="normal">0.25</text>
<text x="116.47" y="511" font-size="7.4" text-anchor="middle" fill="#222" stroke="#222" stroke-width="0.42" font-weight="normal">0.25</text>
<line x1="66" y1="442.5" x2="69.5" y2="442.5" stroke="#5e5e5e" stroke-width="1"/>
<line x1="159.5" y1="499.5" x2="159.5" y2="503" stroke="#5e5e5e" stroke-width="1"/>
<text x="64" y="445.4" font-size="7.4" text-anchor="end" fill="#222" stroke="#222" stroke-width="0.42" font-weight="normal">0.50</text>
<text x="159.95" y="511" font-size="7.4" text-anchor="middle" fill="#222" stroke="#222" stroke-width="0.42" font-weight="normal">0.50</text>
<line x1="66" y1="414.5" x2="69.5" y2="414.5" stroke="#5e5e5e" stroke-width="1"/>
<line x1="203.5" y1="499.5" x2="203.5" y2="503" stroke="#5e5e5e" stroke-width="1"/>
<text x="64" y="418.1" font-size="7.4" text-anchor="end" fill="#222" stroke="#222" stroke-width="0.42" font-weight="normal">0.75</text>
<text x="203.43" y="511" font-size="7.4" text-anchor="middle" fill="#222" stroke="#222" stroke-width="0.42" font-weight="normal">0.75</text>
<line x1="66" y1="387.5" x2="69.5" y2="387.5" stroke="#5e5e5e" stroke-width="1"/>
<line x1="246.5" y1="499.5" x2="246.5" y2="503" stroke="#5e5e5e" stroke-width="1"/>
<text x="64" y="390.8" font-size="7.4" text-anchor="end" fill="#222" stroke="#222" stroke-width="0.42" font-weight="normal">1.00</text>
<text x="246.9" y="511" font-size="7.4" text-anchor="middle" fill="#222" stroke="#222" stroke-width="0.42" font-weight="normal">1.00</text>
<text x="0" y="0" font-size="7.65" text-anchor="middle" fill="#222" stroke="#222" stroke-width="0.42" transform="translate(45,442.5) rotate(-90)">Sensitivity</text>
<text x="159.95" y="520" font-size="7.4" text-anchor="middle" fill="#222" stroke="#222" stroke-width="0.42" font-weight="normal">1 – Specificity</text>
<text x="41.3" y="529.6" font-size="8.5" text-anchor="middle" fill="#111" stroke="#111" stroke-width="0.42" font-weight="bold">c</text>
<line x1="73" y1="496.8" x2="246.9" y2="387.6" stroke="#555" stroke-width="1"/>
<polyline points="73,496.8 73.75,450 74.5,432.5 76.25,421 77.5,412.5 78.75,403.75 80,400 82.5,395 83.75,393.2 102.5,393.2" fill="none" stroke="#e0a050" stroke-width="1.4" stroke-linejoin="round" stroke-linecap="round" opacity="1"/>
<polyline points="102.5,393.2 102.5,387 247,386.8" fill="none" stroke="#f0d4a4" stroke-width="1.0" stroke-linejoin="round" stroke-linecap="round" opacity="1"/>
<polyline points="73,496.8 73.75,475 74.5,460 75.5,450 77.5,447.5 78,440 78.75,425 79.5,412.5 80.5,405 81.25,400 82.5,398.75 83.75,397.5 85,395 86.25,393.2 107.5,393.2 110,390.2" fill="none" stroke="#94642c" stroke-width="2.0" stroke-linejoin="round" stroke-linecap="round" opacity="1"/>
<polyline points="110,390.2 224.4,389.9 234,387 247,386.8" fill="none" stroke="#b8ac9c" stroke-width="1.0" stroke-linejoin="round" stroke-linecap="round" opacity="1"/>
<rect x="166" y="451.8" width="80" height="19.6" fill="#000"/>
<text x="206" y="460.6" font-size="7.6" text-anchor="middle" fill="#fff" stroke="#fff" stroke-width="0.15" font-weight="normal" textLength="75" lengthAdjust="spacingAndGlyphs">Area under ROC curve</text>
<text x="206" y="468.8" font-size="7.6" text-anchor="middle" fill="#fff" stroke="#fff" stroke-width="0.15" font-weight="normal">(AUC)</text>
<rect x="166" y="472.7" width="46" height="11.1" fill="#b5502a"/>
<rect x="213.8" y="472.7" width="32.2" height="11.1" fill="#b5502a"/>
<text x="189" y="480.7" font-size="7.2" text-anchor="middle" fill="#3a1200" stroke="#3a1200" stroke-width="0.42" font-weight="normal">AUC &gt;60 yrs</text>
<text x="229.9" y="480.7" font-size="7.2" text-anchor="middle" fill="#3a1200" stroke="#3a1200" stroke-width="0.42" font-weight="normal">0.9438</text>
<rect x="166" y="485.2" width="46" height="11.4" fill="#d4602c"/>
<rect x="213.8" y="485.2" width="32.2" height="11.4" fill="#d4602c"/>
<text x="189" y="493.5" font-size="7.2" text-anchor="middle" fill="#3a1200" stroke="#3a1200" stroke-width="0.42" font-weight="normal">AUC &lt;60 yrs</text>
<text x="229.9" y="493.5" font-size="7.2" text-anchor="middle" fill="#3a1200" stroke="#3a1200" stroke-width="0.42" font-weight="normal">0.9727</text>
<line x1="105.4" y1="526.5" x2="127.5" y2="526.5" stroke="#bca48a" stroke-width="1.2"/><circle cx="116.4" cy="526.5" r="0.8" fill="#864"/>
<text x="132.8" y="529.3" font-size="7.4" text-anchor="start" fill="#222" stroke="#222" stroke-width="0.42" font-weight="normal" textLength="29" lengthAdjust="spacingAndGlyphs">Age &gt;60</text>
<line x1="164.6" y1="526.5" x2="184.6" y2="526.5" stroke="#ecc89c" stroke-width="1.2"/><circle cx="174.6" cy="526.5" r="0.8" fill="#c84"/>
<text x="191.8" y="529.3" font-size="7.4" text-anchor="start" fill="#222" stroke="#222" stroke-width="0.42" font-weight="normal" textLength="29.6" lengthAdjust="spacingAndGlyphs">Age &lt;60</text>
<line x1="318.5" y1="384" x2="318.5" y2="498.5" stroke="#f5f5f5" stroke-width="1"/>
<line x1="314.5" y1="496.5" x2="495" y2="496.5" stroke="#f5f5f5" stroke-width="1"/>
<line x1="361.5" y1="384" x2="361.5" y2="498.5" stroke="#f5f5f5" stroke-width="1"/>
<line x1="314.5" y1="469.5" x2="495" y2="469.5" stroke="#f5f5f5" stroke-width="1"/>
<line x1="405.5" y1="384" x2="405.5" y2="498.5" stroke="#f5f5f5" stroke-width="1"/>
<line x1="314.5" y1="441.5" x2="495" y2="441.5" stroke="#f5f5f5" stroke-width="1"/>
<line x1="448.5" y1="384" x2="448.5" y2="498.5" stroke="#f5f5f5" stroke-width="1"/>
<line x1="314.5" y1="414.5" x2="495" y2="414.5" stroke="#f5f5f5" stroke-width="1"/>
<line x1="491.5" y1="384" x2="491.5" y2="498.5" stroke="#f5f5f5" stroke-width="1"/>
<line x1="314.5" y1="387.5" x2="495" y2="387.5" stroke="#f5f5f5" stroke-width="1"/>
<line x1="314.5" y1="384.5" x2="314.5" y2="499" stroke="#5e5e5e" stroke-width="1"/>
<line x1="314" y1="498.5" x2="494" y2="498.5" stroke="#5e5e5e" stroke-width="1"/>
<line x1="311" y1="496.5" x2="314.5" y2="496.5" stroke="#5e5e5e" stroke-width="1"/>
<line x1="318.5" y1="498.5" x2="318.5" y2="502" stroke="#5e5e5e" stroke-width="1"/>
<text x="309" y="499.4" font-size="7.4" text-anchor="end" fill="#222" stroke="#222" stroke-width="0.42" font-weight="normal">0</text>
<text x="318.4" y="510" font-size="7.4" text-anchor="middle" fill="#222" stroke="#222" stroke-width="0.42" font-weight="normal">0</text>
<line x1="311" y1="469.5" x2="314.5" y2="469.5" stroke="#5e5e5e" stroke-width="1"/>
<line x1="361.5" y1="498.5" x2="361.5" y2="502" stroke="#5e5e5e" stroke-width="1"/>
<text x="309" y="472.25" font-size="7.4" text-anchor="end" fill="#222" stroke="#222" stroke-width="0.42" font-weight="normal">0.25</text>
<text x="361.7" y="510" font-size="7.4" text-anchor="middle" fill="#222" stroke="#222" stroke-width="0.42" font-weight="normal">0.25</text>
<line x1="311" y1="441.5" x2="314.5" y2="441.5" stroke="#5e5e5e" stroke-width="1"/>
<line x1="405.5" y1="498.5" x2="405.5" y2="502" stroke="#5e5e5e" stroke-width="1"/>
<text x="309" y="445.1" font-size="7.4" text-anchor="end" fill="#222" stroke="#222" stroke-width="0.42" font-weight="normal">0.50</text>
<text x="405" y="510" font-size="7.4" text-anchor="middle" fill="#222" stroke="#222" stroke-width="0.42" font-weight="normal">0.50</text>
<line x1="311" y1="414.5" x2="314.5" y2="414.5" stroke="#5e5e5e" stroke-width="1"/>
<line x1="448.5" y1="498.5" x2="448.5" y2="502" stroke="#5e5e5e" stroke-width="1"/>
<text x="309" y="417.95" font-size="7.4" text-anchor="end" fill="#222" stroke="#222" stroke-width="0.42" font-weight="normal">0.75</text>
<text x="448.3" y="510" font-size="7.4" text-anchor="middle" fill="#222" stroke="#222" stroke-width="0.42" font-weight="normal">0.75</text>
<line x1="311" y1="387.5" x2="314.5" y2="387.5" stroke="#5e5e5e" stroke-width="1"/>
<line x1="491.5" y1="498.5" x2="491.5" y2="502" stroke="#5e5e5e" stroke-width="1"/>
<text x="309" y="390.8" font-size="7.4" text-anchor="end" fill="#222" stroke="#222" stroke-width="0.42" font-weight="normal">1.00</text>
<text x="491.6" y="510" font-size="7.4" text-anchor="middle" fill="#222" stroke="#222" stroke-width="0.42" font-weight="normal">1.00</text>
<text x="0" y="0" font-size="7.65" text-anchor="middle" fill="#222" stroke="#222" stroke-width="0.42" transform="translate(289.6,443) rotate(-90)">Sensitivity</text>
<text x="405" y="520" font-size="7.4" text-anchor="middle" fill="#222" stroke="#222" stroke-width="0.42" font-weight="normal">1 – Specificity</text>
<text x="285.2" y="529.3" font-size="8.5" text-anchor="middle" fill="#111" stroke="#111" stroke-width="0.42" font-weight="bold">f</text>
<line x1="318.4" y1="496.2" x2="491.6" y2="387.6" stroke="#555" stroke-width="1"/>
<polyline points="318.4,496.2 318.3,480 319,470 320.2,462 321.2,450 322.3,440 323,435.6 325.5,424.8 327.3,416.1 328,408.6 334.1,408.6 341.3,409.3 342.8,406.1 344.9,403.2 345.6,401.7" fill="none" stroke="#e0a050" stroke-width="1.3" stroke-linejoin="round" stroke-linecap="round" opacity="1"/>
<polyline points="345.6,401.7 355.4,401.7 359.2,398.6 378.5,394 386.2,394.5 404.6,393.2 407.7,390.9 476.5,390.8 490.6,387.6" fill="none" stroke="#eccb94" stroke-width="1.1" stroke-linejoin="round" stroke-linecap="round" opacity="1"/>
<polyline points="318.4,496.2 318.4,487.6 318.75,480 319.5,472.5 320.5,466.25 322,462.5 322.5,452.5 323,437.5 323.4,435.6 324.8,430.5 327,426.2 328.4,423.3 330.5,419.7 332,416.1 333.8,413.3 335.6,411.5 337.7,410.7 340.6,410 342.8,408.6 344.2,406.1 346.2,404.6" fill="none" stroke="#8a6030" stroke-width="1.6" stroke-linejoin="round" stroke-linecap="round" opacity="1"/>
<polyline points="346.2,404.6 355.4,404 358.5,399.4 380,399.4 384.6,395.5 393.8,395 404.6,394 415.4,391.7 420,390.9 476.5,390.9 490.6,387.6" fill="none" stroke="#c0a070" stroke-width="1.1" stroke-linejoin="round" stroke-linecap="round" opacity="1"/>
<polyline points="415.4,391.2 476.5,390.9 490.6,387.6" fill="none" stroke="#d4b468" stroke-width="1.5" stroke-linejoin="round" stroke-linecap="round" opacity="1"/>
<rect x="410.4" y="452" width="81.2" height="19" fill="#000"/>
<text x="451" y="460.8" font-size="7.6" text-anchor="middle" fill="#fff" stroke="#fff" stroke-width="0.15" font-weight="normal" textLength="75" lengthAdjust="spacingAndGlyphs">Area under ROC curve</text>
<text x="451" y="469" font-size="7.6" text-anchor="middle" fill="#fff" stroke="#fff" stroke-width="0.15" font-weight="normal">(AUC)</text>
<rect x="410.4" y="472.3" width="46.2" height="11.1" fill="#b5502a"/>
<rect x="458.4" y="472.3" width="33.2" height="11.1" fill="#b5502a"/>
<text x="433.5" y="480.3" font-size="7.2" text-anchor="middle" fill="#3a1200" stroke="#3a1200" stroke-width="0.42" font-weight="normal">AUC &gt;60 yrs</text>
<text x="475" y="480.3" font-size="7.2" text-anchor="middle" fill="#3a1200" stroke="#3a1200" stroke-width="0.42" font-weight="normal">0.8950</text>
<rect x="410.4" y="484.8" width="46.2" height="11.4" fill="#d4602c"/>
<rect x="458.4" y="484.8" width="33.2" height="11.4" fill="#d4602c"/>
<text x="433.5" y="493.1" font-size="7.2" text-anchor="middle" fill="#3a1200" stroke="#3a1200" stroke-width="0.42" font-weight="normal">AUC &lt;60 yrs</text>
<text x="475" y="493.1" font-size="7.2" text-anchor="middle" fill="#3a1200" stroke="#3a1200" stroke-width="0.42" font-weight="normal">0.9064</text>
<line x1="353.75" y1="526.3" x2="373.75" y2="526.3" stroke="#bca48a" stroke-width="1.2"/><circle cx="363.7" cy="526.3" r="0.8" fill="#864"/>
<text x="378.2" y="529.3" font-size="7.4" text-anchor="start" fill="#222" stroke="#222" stroke-width="0.42" font-weight="normal" textLength="28.6" lengthAdjust="spacingAndGlyphs">Age &gt;60</text>
<line x1="408.3" y1="526.3" x2="431.3" y2="526.3" stroke="#ecc89c" stroke-width="1.2"/><circle cx="419.8" cy="526.3" r="0.8" fill="#c84"/>
<text x="435.2" y="529.3" font-size="7.4" text-anchor="start" fill="#222" stroke="#222" stroke-width="0.42" font-weight="normal" textLength="28.8" lengthAdjust="spacingAndGlyphs">Age &lt;60</text>
</svg></body></html>
